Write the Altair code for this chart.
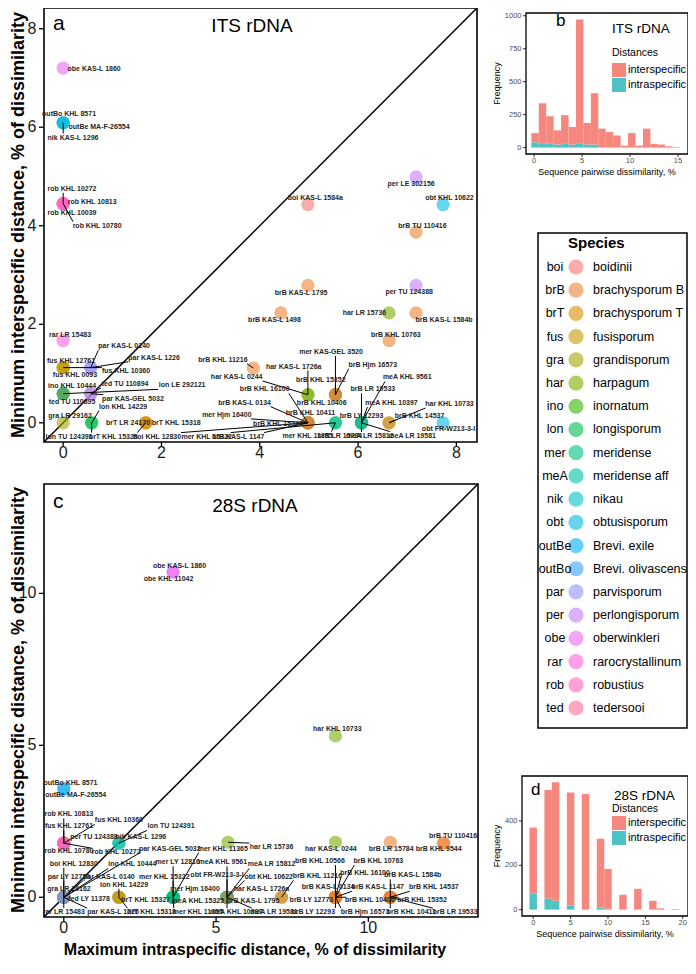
import math
import altair as alt
import pandas as pd

FONT = "Liberation Sans"

# ---------------- species ----------------
sp_abbr = ["boi", "brB", "brT", "fus", "gra", "har", "ino", "lon", "mer", "meA",
           "nik", "obt", "outBe", "outBo", "par", "per", "obe", "rar", "rob", "ted"]
sp_name = ["boidinii", "brachysporum B", "brachysporum T", "fusisporum", "grandisporum",
           "harpagum", "inornatum", "longisporum", "meridense", "meridense aff", "nikau",
           "obtusisporum", "Brevi. exile", "Brevi. olivascens", "parvisporum",
           "perlongisporum", "oberwinkleri", "rarocrystallinum", "robustius", "tedersooi"]


def hcl_hex(h, c=100.0, l=65.0):
    wy, wu, wv = 100.0, 0.1978398, 0.4683363
    hr = math.radians(h)
    U, V = c * math.cos(hr), c * math.sin(hr)
    Y = wy * ((l + 16) / 116) ** 3
    u = U / (13 * l) + wu
    v = V / (13 * l) + wv
    X = 9.0 * Y * u / (4 * v)
    Z = -X / 3 - 5 * Y + 3 * Y / v

    def g(t):
        t = 1.055 * t ** (1 / 2.4) - 0.055 if t > 0.00304 else 12.92 * t
        return min(max(t, 0.0), 1.0)
    r = g((3.240479 * X - 1.537150 * Y - 0.498535 * Z) / wy)
    gg = g((-0.969256 * X + 1.875992 * Y + 0.041556 * Z) / wy)
    b = g((0.055648 * X - 0.204043 * Y + 1.057311 * Z) / wy)
    return "#%02X%02X%02X" % (round(r * 255), round(gg * 255), round(b * 255))


sp_colors = [hcl_hex(15 + 18 * i) for i in range(len(sp_abbr))]

# ---------------- ITS (panel a) ----------------
its_sp = ["obe", "outBo", "outBe", "nik", "rob", "rob", "rob", "rob", "rar", "fus",
          "fus", "fus", "par", "par", "ino", "ted", "lon", "ted", "par", "gra",
          "lon", "lon", "brT", "brT", "brT", "boi", "mer", "brB", "brB", "har",
          "har", "brB", "mer", "brB", "brB", "brB", "brB", "mer", "brB", "brB",
          "mer", "brB", "meA", "meA", "brB", "brB", "meA", "meA", "har", "brB",
          "obt", "per", "boi", "obt", "brB", "brB", "per", "brB", "har", "brB", "brB"]
its_label = ["obe KAS-L 1860", "outBo KHL 8571", "outBe MA-F-26554", "nik KAS-L 1296",
             "rob KHL 10272", "rob KHL 10813", "rob KHL 10039", "rob KHL 10780",
             "rar LR 15483", "fus KHL 12761", "fus KHL 0093", "fus KHL 10360",
             "par KAS-L 0140", "par KAS-L 1226", "ino KHL 10444", "ted TU 110895",
             "lon LE 292121", "ted TU 110894", "par KAS-GEL 5032", "gra LR 29162",
             "lon KHL 14229", "lon TU 124391", "brT LR 24170", "brT KHL 15318",
             "brT KHL 15328", "boi KHL 12830", "mer KHL 15322", "brB KAS-L 1147",
             "brB KHL 11216", "har KAS-L 1726a", "har KAS-L 0244", "brB KHL 15352",
             "mer KAS-GEL 3520", "brB Hjm 16573", "brB KHL 10406", "brB KHL 16100",
             "brB KAS-L 0134", "mer Hjm 16400", "brB KHL 10411", "brB KHL 15340",
             "mer KHL 11355", "brB LR 15784", "meA LR 15812", "meA LR 19581",
             "brB LY 12293", "brB LR 19533", "meA KHL 9561", "meA KHL 10397",
             "har KHL 10733", "brB KHL 14537", "obt FR-W213-3-I", "per LE 302156",
             "boi KAS-L 1584a", "obt KHL 10622", "brB TU 110416", "brB KAS-L 1795",
             "per TU 124388", "brB KAS-L 1498", "har LR 15736", "brB KAS-L 1584b",
             "brB KHL 10763"]
its_x = [0, 0, 0, 0, 0, 0, 0, 0, 0, 0,
         0, 0, 0.56, 0.56, 0, 0, 0, 0.56, 0.56, 0,
         0.58, 0.58, 1.68, 1.68, 1.68, 4.98, 5.54, 4.98, 3.87, 4.98,
         4.98, 5.54, 5.54, 5.54, 5.54, 4.98, 4.98, 4.98, 4.98, 4.98,
         5.54, 6.07, 6.07, 6.07, 6.07, 6.07, 6.07, 6.07, 6.63, 6.63,
         7.73, 7.18, 4.98, 7.73, 7.18, 4.98, 7.18, 4.43, 6.63, 7.18, 6.63]
its_y = [7.2, 6.09, 6.09, 6.09, 4.45, 4.45, 4.45, 4.45, 1.67, 1.12,
         1.12, 1.12, 1.12, 1.12, 0.59, 0.59, 0.59, 0.59, 0.59, 0,
         0, 0, 0, 0, 0, 0, 0, 0, 1.11, 0.57,
         0.57, 0.57, 0.57, 0.57, 0.57, 0, 0, 0, 0, 0,
         0, 0, 0, 0, 0, 0, 0, 0, 0, 0,
         0, 4.99, 4.43, 4.43, 3.87, 2.79, 2.79, 2.23, 2.23, 2.23, 1.67]
its_lx = [0.63, 0.12, 0.73, 0.2, 0.18, 0.59, 0.18, 0.69, 0.14, 0.16,
          0.24, 1.28, 1.24, 1.85, 0.18, 0.18, 2.42, 1.26, 1.42, 0.14,
          1.22, 0.12, 1.32, 2.3, 1.02, 1.91, 2.92, 3.56, 3.25, 4.69,
          3.53, 5.24, 5.45, 6.3, 5.26, 4.1, 3.69, 3.33, 5.03, 4.37,
          4.97, 5.63, 6.24, 7.1, 6.07, 6.3, 7.0, 6.68, 7.86, 7.25,
          7.84, 7.08, 5.13, 7.86, 7.31, 4.84, 7.04, 4.3, 6.13, 7.75, 6.77]
its_ly = [7.19, 6.27, 6.01, 5.79, 4.75, 4.49, 4.26, 4.0, 1.79, 1.26,
          0.97, 1.06, 1.55, 1.32, 0.74, 0.43, 0.76, 0.79, 0.49, 0.13,
          0.33, -0.28, 0.0, 0.0, -0.28, -0.28, -0.28, -0.28, 1.28, 1.14,
          0.93, 0.86, 1.44, 1.18, 0.41, 0.68, 0.41, 0.16, 0.2, -0.02,
          -0.26, -0.26, -0.26, -0.26, 0.14, 0.68, 0.92, 0.4, 0.38, 0.14,
          -0.13, 4.85, 4.56, 4.56, 4.0, 2.63, 2.65, 2.08, 2.23, 2.09, 1.79]

# ---------------- 28S (panel c) ----------------
lsu_sp = ["obe", "obe", "har", "outBo", "outBe", "rob", "fus", "fus", "lon", "per",
          "nik", "rob", "rob", "har", "har", "brB", "brB", "brB",
          "boi", "par", "gra", "ted", "rar", "par", "par", "ino", "par",
          "lon", "brT", "brT",
          "mer", "mer", "mer", "meA", "mer", "mer",
          "meA", "obt", "obt", "meA", "meA", "meA", "brB",
          "har", "brB",
          "brB", "brB", "brB", "brB", "brB", "brB", "brB", "brB", "brB",
          "brB", "brB", "brB", "brB", "brB"]
lsu_label = ["obe KAS-L 1860", "obe KHL 11042", "har KHL 10733", "outBo KHL 8571",
             "outBe MA-F-26554", "rob KHL 10813", "fus KHL 12761", "fus KHL 10360",
             "lon TU 124391", "per TU 124388", "nik KAS-L 1296", "rob KHL 10780",
             "rob KHL 10272", "har LR 15736", "har KAS-L 0244", "brB LR 15784",
             "brB TU 110416", "brB KHL 9544",
             "boi KHL 12830", "par LY 12750", "gra LR 29162", "ted LY 11378",
             "rar LR 15483", "par KAS-L 1226", "par KAS-L 0140", "ino KHL 10444",
             "par KAS-GEL 5032",
             "lon KHL 14229", "brT KHL 15327", "brT KHL 15318",
             "mer LY 12816", "mer KHL 15322", "mer Hjm 16400", "meA KHL 15325",
             "mer KHL 11355", "mer KHL 11365",
             "meA KHL 9561", "obt FR-W213-3-I", "obt KHL 10622", "meA LR 15812",
             "meA KHL 10397", "meA LR 19581", "brB KAS-L 1795",
             "har KAS-L 1726a", "brB KHL 11216",
             "brB KHL 10566", "brB KHL 10763", "brB KHL 16100", "brB KAS-L 0134",
             "brB LY 12773", "brB LY 12293", "brB Hjm 16573", "brB KAS-L 1147",
             "brB KHL 10406",
             "brB KAS-L 1584b", "brB KHL 14537", "brB KHL 15352", "brB KHL 10411",
             "brB LR 19533"]
lsu_x = [3.59, 3.59, 8.92, 0, 0, 0, 0, 0, 1.81, 0,
         1.81, 0, 0, 5.39, 8.92, 10.72, 12.47, 12.47,
         0, 0, 0, 0, 0, 0, 0, 0, 0,
         1.81, 1.81, 1.81,
         3.59, 3.59, 3.59, 3.59, 3.59, 3.59,
         5.36, 5.36, 5.36, 5.36, 5.36, 5.36, 5.36,
         7.15, 7.15,
         8.92, 8.92, 8.92, 8.92, 8.92, 8.92, 8.92, 8.92, 8.92,
         10.72, 10.72, 10.72, 10.72, 10.72]
lsu_y = [10.7, 10.7, 5.31, 3.57, 3.57, 1.78, 1.78, 1.78, 1.78, 1.78,
         1.78, 1.78, 1.78, 1.81, 1.81, 1.81, 1.78, 1.78,
         0, 0, 0, 0, 0, 0, 0, 0, 0,
         0, 0, 0,
         0, 0, 0, 0, 0, 0,
         0, 0, 0, 0, 0, 0, 0,
         0, 0,
         0, 0, 0, 0, 0, 0, 0, 0, 0,
         0, 0, 0, 0, 0]
lsu_lx = [3.8, 3.44, 8.98, 0.22, 0.39, 0.17, 0.17, 1.81, 3.52, 0.99,
          2.53, 0.17, 1.72, 6.82, 8.77, 10.75, 12.78, 12.31,
          0.33, 0.17, 0.17, 0.83, 0.0, 1.62, 1.48, 2.25, 3.48,
          1.98, 2.69, 2.88,
          3.74, 3.3, 4.31, 4.4, 4.4, 5.22,
          5.22, 5.03, 6.73, 6.82, 5.66, 6.9, 6.21,
          6.49, 8.33,
          8.41, 10.33, 9.89, 8.68, 8.13, 8.19, 9.89, 10.31, 10.05,
          11.46, 12.15, 11.76, 11.41, 12.85]
lsu_ly = [10.91, 10.47, 5.53, 3.76, 3.35, 2.73, 2.33, 2.53, 2.33, 1.98,
          1.98, 1.51, 1.48, 1.65, 1.6, 1.6, 2.01, 1.6,
          1.1, 0.68, 0.28, -0.05, -0.49, -0.49, 0.68, 1.08, 1.6,
          0.41, -0.08, -0.49,
          1.15, 0.68, 0.28, -0.11, -0.49, 1.6,
          1.15, 0.72, 0.68, 1.08, -0.49, -0.49, -0.11,
          0.28, 0.69,
          1.19, 1.19, 0.8, 0.33, -0.08, -0.49, -0.49, 0.33, -0.08,
          0.72, 0.33, -0.08, -0.49, -0.49]

# ---------------- histograms ----------------
dist_levels = ["interspecific", "intraspecific"]
dist_colors = ["#F6877F", "#4DC3C6"]

its_bin_start = [-0.275, 0.5, 1.275, 2.05, 2.825, 3.6, 4.375, 5.15, 5.925, 6.7,
                 7.475, 8.25, 9.025, 9.8, 10.575, 11.35, 12.125, 12.9, 13.675, 14.45]
its_bin_width = 0.775
its_inter = [70, 303, 205, 108, 213, 133, 939, 164, 390, 144,
             118, 92, 15, 110, 15, 144, 28, 23, 10, 4]
its_intra = [40, 33, 33, 23, 33, 23, 33, 23, 23, 0,
             0, 0, 0, 0, 0, 0, 0, 0, 0, 0]

lsu_bin_start = [-0.5, 1.5, 2.5, 4.5, 6.5, 8.5, 9.5, 11.5, 13.5, 15.5, 16.5, 18.5]
lsu_bin_width = 1.0
lsu_inter = [296, 490, 534, 511, 518, 311, 179, 67, 94, 40, 6, 3]
lsu_intra = [74, 50, 40, 17, 3, 9, 4, 0, 0, 0, 0, 0]

Y_TITLE = "Minimum interspecific distance, % of dissimilarity"
X_TITLE = "Maximum intraspecific distance, % of dissimilarity"
H_XTITLE = "Sequence pairwise dissimilarity, %"


# ---------------- helpers ----------------
def scl(dom, rng):
    return alt.Scale(domain=list(dom), range=list(rng), nice=False, zero=False)


def df1(**kw):
    return pd.DataFrame({k: [v] for k, v in kw.items()})


def vtext(text, x, y, size, weight="normal", align="center", baseline="alphabetic",
          angle=None, color="black"):
    kw = dict(fontSize=size, fontWeight=weight, align=align, baseline=baseline, color=color)
    if angle is not None:
        kw["angle"] = angle
    return alt.Chart(df1(t=text)).mark_text(**kw).encode(
        x=alt.value(x), y=alt.value(y), text="t:N")


def frame(sx, sy, dx, dy, width=1.6):
    return alt.Chart(df1(a=dx[0], b=dx[1], c=dy[0], d=dy[1])).mark_rect(
        fill="white", fillOpacity=0, stroke="black", strokeWidth=width).encode(
        x=alt.X("a:Q", scale=sx, axis=None), x2="b:Q",
        y=alt.Y("c:Q", scale=sy, axis=None), y2="d:Q")


def axis_layers(xticks, yticks, sx, sy, xr, yr, fs, tick, lcol, tw, xlab_dy, ylab_dx):
    L = []
    tx = pd.DataFrame({"v": xticks, "t": [str(v) for v in xticks]})
    ty = pd.DataFrame({"v": yticks, "t": [str(v) for v in yticks]})
    L.append(alt.Chart(tx).mark_rule(color="black", strokeWidth=tw).encode(
        x=alt.X("v:Q", scale=sx, axis=None), y=alt.value(yr[0]), y2=alt.value(yr[0] + tick)))
    L.append(alt.Chart(tx).mark_text(fontSize=fs, color=lcol, baseline="middle").encode(
        x=alt.X("v:Q", scale=sx, axis=None), y=alt.value(yr[0] + xlab_dy), text="t:N"))
    L.append(alt.Chart(ty).mark_rule(color="black", strokeWidth=tw).encode(
        y=alt.Y("v:Q", scale=sy, axis=None), x=alt.value(xr[0] - tick), x2=alt.value(xr[0])))
    L.append(alt.Chart(ty).mark_text(fontSize=fs, color=lcol, align="right",
                                     baseline="middle").encode(
        y=alt.Y("v:Q", scale=sy, axis=None), x=alt.value(xr[0] - ylab_dx), text="t:N"))
    return L


def scatter_layers(sp, lab, xs, ys, lxs, lys, dom, xr, yr, ticks, letter, gene,
                   letter_y, gene_x, gene_y, ytitle_y, xtitle=None, xtitle_pos=None):
    sx, sy = scl(dom, xr), scl(dom, yr)
    pxu = (xr[1] - xr[0]) / (dom[1] - dom[0])
    pyu = (yr[0] - yr[1]) / (dom[1] - dom[0])
    pts = pd.DataFrame({"species": sp, "x": xs, "y": ys})
    rows = []
    for l, x, y, lx, ly in zip(lab, xs, ys, lxs, lys):
        w = len(l) * 3.7 / pxu
        h = 8.0 / pyu
        ex = min(max(x, lx - w / 2), lx + w / 2)
        ey = min(max(y, ly - h / 2), ly + h / 2)
        if math.hypot((ex - x) * pxu, (ey - y) * pyu) > 7:
            rows.append({"x": x, "y": y, "x2": ex, "y2": ey})
    seg = pd.DataFrame(rows)
    labs = pd.DataFrame({"label": lab, "lx": lxs, "ly": lys})

    def X(f):
        return alt.X(f, scale=sx, axis=None)

    def Y(f):
        return alt.Y(f, scale=sy, axis=None)

    L = [frame(sx, sy, dom, dom)]
    L.append(alt.Chart(pd.DataFrame({"v": dom})).mark_line(color="black", strokeWidth=1.5)
             .encode(x=X("v:Q"), y=Y("v:Q")))
    L.append(alt.Chart(pts).mark_circle(size=175, opacity=0.6).encode(
        x=X("x:Q"), y=Y("y:Q"),
        color=alt.Color("species:N", scale=alt.Scale(domain=sp_abbr, range=sp_colors),
                        legend=None)))
    L.append(alt.Chart(seg).mark_rule(color="black", strokeWidth=1).encode(
        x=X("x:Q"), y=Y("y:Q"), x2="x2:Q", y2="y2:Q"))
    L.append(alt.Chart(labs).mark_text(fontSize=7, fontWeight="bold", color="#262626",
                                       align="center", baseline="middle").encode(
        x=X("lx:Q"), y=Y("ly:Q"), text="label:N"))
    L += axis_layers(ticks, ticks, sx, sy, xr, yr, 16, 5, "#1a1a1a", 1.3, 11, 7.5)
    L.append(vtext(Y_TITLE, 11, ytitle_y, 18, weight="bold", baseline="middle", angle=270))
    if xtitle:
        L.append(vtext(xtitle, xtitle_pos[0], xtitle_pos[1], 16, weight="bold"))
    L.append(vtext(letter, xr[0] + 9, letter_y, 21, align="left"))
    L.append(vtext(gene, gene_x, gene_y, 19))
    return L


def hist_layers(starts, wbin, inter, intra, dx, dy, xr, yr, xticks, yticks, letter, gene,
                letter_pos, gene_pos, leg_x, leg_title_y, leg_y0, freq_x):
    sx, sy = scl(dx, xr), scl(dy, yr)
    rows = []
    for s, a, b in zip(starts, inter, intra):
        if b > 0:
            rows.append({"s": s, "e": s + wbin, "y0": 0, "y1": b, "Distances": "intraspecific"})
        rows.append({"s": s, "e": s + wbin, "y0": b, "y1": b + a, "Distances": "interspecific"})
    df = pd.DataFrame(rows)
    cscale = alt.Scale(domain=dist_levels, range=dist_colors)
    L = []
    L.append(alt.Chart(df).mark_rect().encode(
        x=alt.X("s:Q", scale=sx, axis=None), x2="e:Q",
        y=alt.Y("y0:Q", scale=sy, axis=None), y2="y1:Q",
        color=alt.Color("Distances:N", scale=cscale, legend=None)))
    L.append(frame(sx, sy, dx, dy, width=1.3))
    L += axis_layers(xticks, yticks, sx, sy, xr, yr, 7.5, 3, "#4d4d4d", 0.8, 6.5, 4.5)
    L.append(vtext(H_XTITLE, (xr[0] + xr[1]) / 2, yr[0] + 21, 9))
    L.append(vtext("Frequency", freq_x, (yr[0] + yr[1]) / 2, 9, baseline="middle", angle=270))
    L.append(vtext(letter, letter_pos[0], letter_pos[1], 17, align="left"))
    L.append(vtext(gene, gene_pos[0], gene_pos[1], 13.5, align="left"))
    # legend
    L.append(vtext("Distances", leg_x, leg_title_y, 10.5, align="left"))
    ld = pd.DataFrame({"Distances": dist_levels, "i": [0, 1]})
    ly = alt.Y("i:Q", scale=scl([0, 1], [leg_y0, leg_y0 + 15]), axis=None)
    L.append(alt.Chart(ld).mark_square(size=196, opacity=1).encode(
        x=alt.value(leg_x + 7), y=ly, color=alt.Color("Distances:N", scale=cscale, legend=None)))
    L.append(alt.Chart(ld).mark_text(fontSize=11, align="left", baseline="middle",
                                     color="black").encode(
        x=alt.value(leg_x + 16), y=ly, text="Distances:N"))
    return L


# ---------------- panels (chart pixel space, page minus 8px margin) ----------------
dom_a = [-0.39, 8.42]
dom_c = [-0.65, 13.6]

layers = []
layers += scatter_layers(its_sp, its_label, its_x, its_y, its_lx, its_ly, dom_a,
                         [36, 469], [434, 0], [0, 2, 4, 6, 8], "a", "ITS rDNA",
                         22, 244, 24, 217)
layers += scatter_layers(lsu_sp, lsu_label, lsu_x, lsu_y, lsu_lx, lsu_ly, dom_c,
                         [36, 470], [909, 476], [0, 5, 10], "c", "28S rDNA",
                         500, 247, 504, 692, X_TITLE, (247, 947))
layers += hist_layers(its_bin_start, its_bin_width, its_inter, its_intra,
                      [-0.83, 16.04], [-48.6, 1021], [518, 680], [146, 5],
                      [0, 5, 10, 15], [0, 250, 500, 750, 1000], "b", "ITS rDNA",
                      (548, 18), (604, 25), 604, 48, 62, 489)
layers += hist_layers(lsu_bin_start, lsu_bin_width, lsu_inter, lsu_intra,
                      [-1.5, 20.7], [-28.7, 602.7], [514, 680], [908, 768],
                      [0, 5, 10, 15, 20], [0, 200, 400], "d", "28S rDNA",
                      (523, 787), (606, 792), 604, 804, 815, 489)

# ---------------- species legend ----------------
leg_df = pd.DataFrame({"abbr": sp_abbr, "name": sp_name, "i": list(range(len(sp_abbr)))})
leg_y = alt.Y("i:Q", scale=scl([0, 19], [259, 700]), axis=None)
layers.append(alt.Chart(df1(k=0)).mark_rect(fill="white", fillOpacity=0, stroke="black",
                                            strokeWidth=1.5).encode(
    x=alt.value(530), x2=alt.value(679), y=alt.value(225), y2=alt.value(720)))
layers.append(alt.Chart(leg_df).mark_circle(size=230, opacity=0.6).encode(
    x=alt.value(568), y=leg_y,
    color=alt.Color("abbr:N", scale=alt.Scale(domain=sp_abbr, range=sp_colors), legend=None)))
layers.append(alt.Chart(leg_df).mark_text(fontSize=12.5, align="center", baseline="middle",
                                          color="black").encode(
    x=alt.value(547), y=leg_y, text="abbr:N"))
layers.append(alt.Chart(leg_df).mark_text(fontSize=12.5, align="left", baseline="middle",
                                          color="black").encode(
    x=alt.value(585), y=leg_y, text="name:N"))
layers.append(vtext("Species", 560, 235, 15, weight="bold", align="left", baseline="middle"))

chart = alt.layer(*layers).resolve_scale(
    x="independent", y="independent", color="independent"
).properties(
    width=680, height=952, padding=0, autosize=alt.AutoSizeParams(type="none")
).configure(font=FONT).configure_view(strokeWidth=0)

chart.save("out.html", embed_options={"renderer": "svg", "actions": False})
